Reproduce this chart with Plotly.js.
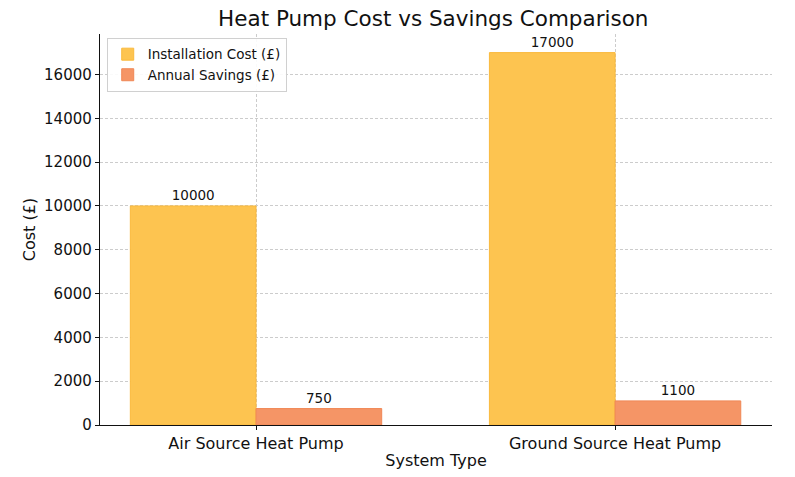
<!DOCTYPE html>
<html><head><meta charset="utf-8">
<script src="https://cdn.plot.ly/plotly-3.0.1.min.js"></script>
<style>body{margin:0;}#c{width:795px;height:477px;}</style>
</head><body><div id="c"></div>
<script>
const categories = ["Air Source Heat Pump", "Ground Source Heat Pump"];
const installationCost = [10000, 17000];
const annualSavings = [750, 1100];
const seriesNames = ["Installation Cost (£)", "Annual Savings (£)"];

const font = "DejaVu Sans, sans-serif";
const traces = [
  {type:'bar', x:categories, y:installationCost, name:seriesNames[0],
   marker:{color:'rgba(253,196,80,1)', line:{color:'rgba(250,185,60,1)', width:1}},
   text:installationCost.map(String), textposition:'outside', cliponaxis:false,
   textfont:{family:font, size:13.5, color:'#111'}},
  {type:'bar', x:categories, y:annualSavings, name:seriesNames[1],
   marker:{color:'rgba(245,149,102,1)', line:{color:'rgba(240,135,85,1)', width:1}},
   text:annualSavings.map(String), textposition:'outside', cliponaxis:false,
   textfont:{family:font, size:13.5, color:'#111'}}
];
const layout = {
  width:795, height:477,
  margin:{l:100, r:23, t:34, b:52},
  paper_bgcolor:'white', plot_bgcolor:'white',
  font:{family:font, color:'#111'},
  title:{text:'Heat Pump Cost vs Savings Comparison', font:{size:21.5, family:font, color:'#111'}, x:0.545, xanchor:'center', y:0.978, yanchor:'top'},
  barmode:'group', bargap:0.3, bargroupgap:0,
  xaxis:{range:[-0.4345, 1.437], showline:true, linecolor:'#111', linewidth:1.2,
    ticks:'outside', ticklen:4, tickcolor:'#111', tickfont:{size:16, family:font},
    showgrid:true, gridcolor:'#cccccc', griddash:'3px,2px', gridwidth:1,
    title:{text:'System Type', font:{size:16, family:font}, standoff:2}},
  yaxis:{range:[0, 17850], showline:true, linecolor:'#111', linewidth:1.2,
    ticks:'outside', ticklen:4, tickcolor:'#111', tickfont:{size:15, family:font},
    dtick:2000, tickformat:'d', showgrid:true, gridcolor:'#cccccc', griddash:'3px,2px', gridwidth:1,
    zeroline:false,
    title:{text:'Cost (£)', font:{size:16, family:font}, standoff:4}},
  legend:{x:0.01, y:0.99, xanchor:'left', yanchor:'top', bgcolor:'rgba(255,255,255,0.9)',
    bordercolor:'#d0d0d0', borderwidth:1, font:{size:13.5, family:font}, tracegroupgap:0},
  showlegend:true
};
Plotly.newPlot('c', traces, layout, {displayModeBar:false, staticPlot:true});
</script></body></html>
